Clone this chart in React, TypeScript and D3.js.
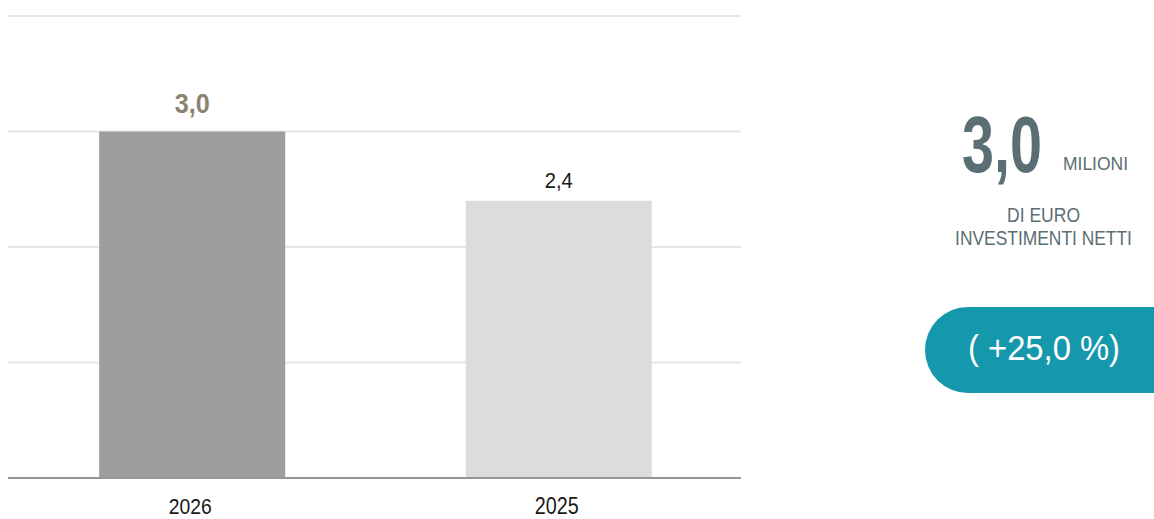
import React, { useLayoutEffect, useRef, useState } from "react";
import * as d3 from "d3";

const categories = ["2026", "2025"];
const values = [3.0, 2.4];
const valueLabels = ["3,0", "2,4"];
const gridTicks = [1, 2, 3, 4];
const headline = "3,0";
const unitLabel = "MILIONI";
const subLines = ["DI EURO", "INVESTIMENTI NETTI"];
const changeLabel = "( +25,0 %)";

const W = 1154;
const H = 519;
const FONT = "'Liberation Sans Narrow', 'Arial Narrow', 'Liberation Sans', Arial, sans-serif";

type FitProps = {
  cx: number;
  y: number;
  width: number;
  fontSize: number;
  fill: string;
  bold?: boolean;
  children: string;
};

function FitText({ cx, y, width, fontSize, fill, bold, children }: FitProps) {
  const ref = useRef<SVGTextElement>(null);
  const [sx, setSx] = useState(0.8);
  useLayoutEffect(() => {
    if (ref.current) {
      const natural = ref.current.getComputedTextLength();
      if (natural > 0) setSx(width / natural);
    }
  }, [width, children, fontSize]);
  return (
    <text
      ref={ref}
      transform={`translate(${cx},${y}) scale(${sx},1)`}
      textAnchor="middle"
      fontSize={fontSize}
      fontWeight={bold ? "bold" : "normal"}
      fill={fill}
    >
      {children}
    </text>
  );
}

export default function App() {
  const x = d3.scaleBand<string>().domain(categories).range([9, 742]).paddingInner(0.4925).paddingOuter(0.246);
  const y = d3.scaleLinear().domain([0, 4]).range([478, 16]);
  const barColors = ["#9d9d9b", "#dcdcdc"];
  const labelW = [35, 28];
  const labelFs = [28, 22];
  const catW = [43, 44];
  const subW = [73, 177];
  return (
    <svg width={W} height={H} style={{ position: "absolute", left: 0, top: 0 }} fontFamily={FONT}>
      {gridTicks.map((t) => (
        <line key={t} x1={8} x2={741} y1={y(t)} y2={y(t)} stroke="#e6e6e6" strokeWidth={2} />
      ))}
      {categories.map((c, i) => (
        <rect key={c} x={x(c)} y={y(values[i])} width={x.bandwidth()} height={y(0) - y(values[i])} fill={barColors[i]} />
      ))}
      <line x1={8} x2={741} y1={y(0)} y2={y(0)} stroke="#959595" strokeWidth={2} />
      {categories.map((c, i) => (
        <FitText
          key={"v" + c}
          cx={(x(c) as number) + x.bandwidth() / 2}
          y={y(values[i]) - (i === 0 ? 19 : 13)}
          width={labelW[i]}
          fontSize={labelFs[i]}
          bold={i === 0}
          fill={i === 0 ? "#8c8270" : "#1a1a1a"}
        >
          {valueLabels[i]}
        </FitText>
      ))}
      {categories.map((c, i) => (
        <FitText
          key={"c" + c}
          cx={(x(c) as number) + x.bandwidth() / 2 - 2}
          y={514}
          width={catW[i]}
          fontSize={23}
          fill="#1a1a1a"
        >
          {c}
        </FitText>
      ))}
      <FitText cx={1002} y={172} width={80} fontSize={80} bold fill="#5a6e73">
        {headline}
      </FitText>
      <FitText cx={1095.5} y={170} width={65} fontSize={18} fill="#5a6e73">
        {unitLabel}
      </FitText>
      {subLines.map((s, i) => (
        <FitText key={s} cx={1043.5} y={222 + i * 23} width={subW[i]} fontSize={20} fill="#5a6e73">
          {s}
        </FitText>
      ))}
      <rect x={925} y={307} width={270} height={86} rx={43} ry={43} fill="#1598ac" />
      <FitText cx={1044} y={360} width={152} fontSize={35} fill="#ffffff">
        {changeLabel}
      </FitText>
    </svg>
  );
}
